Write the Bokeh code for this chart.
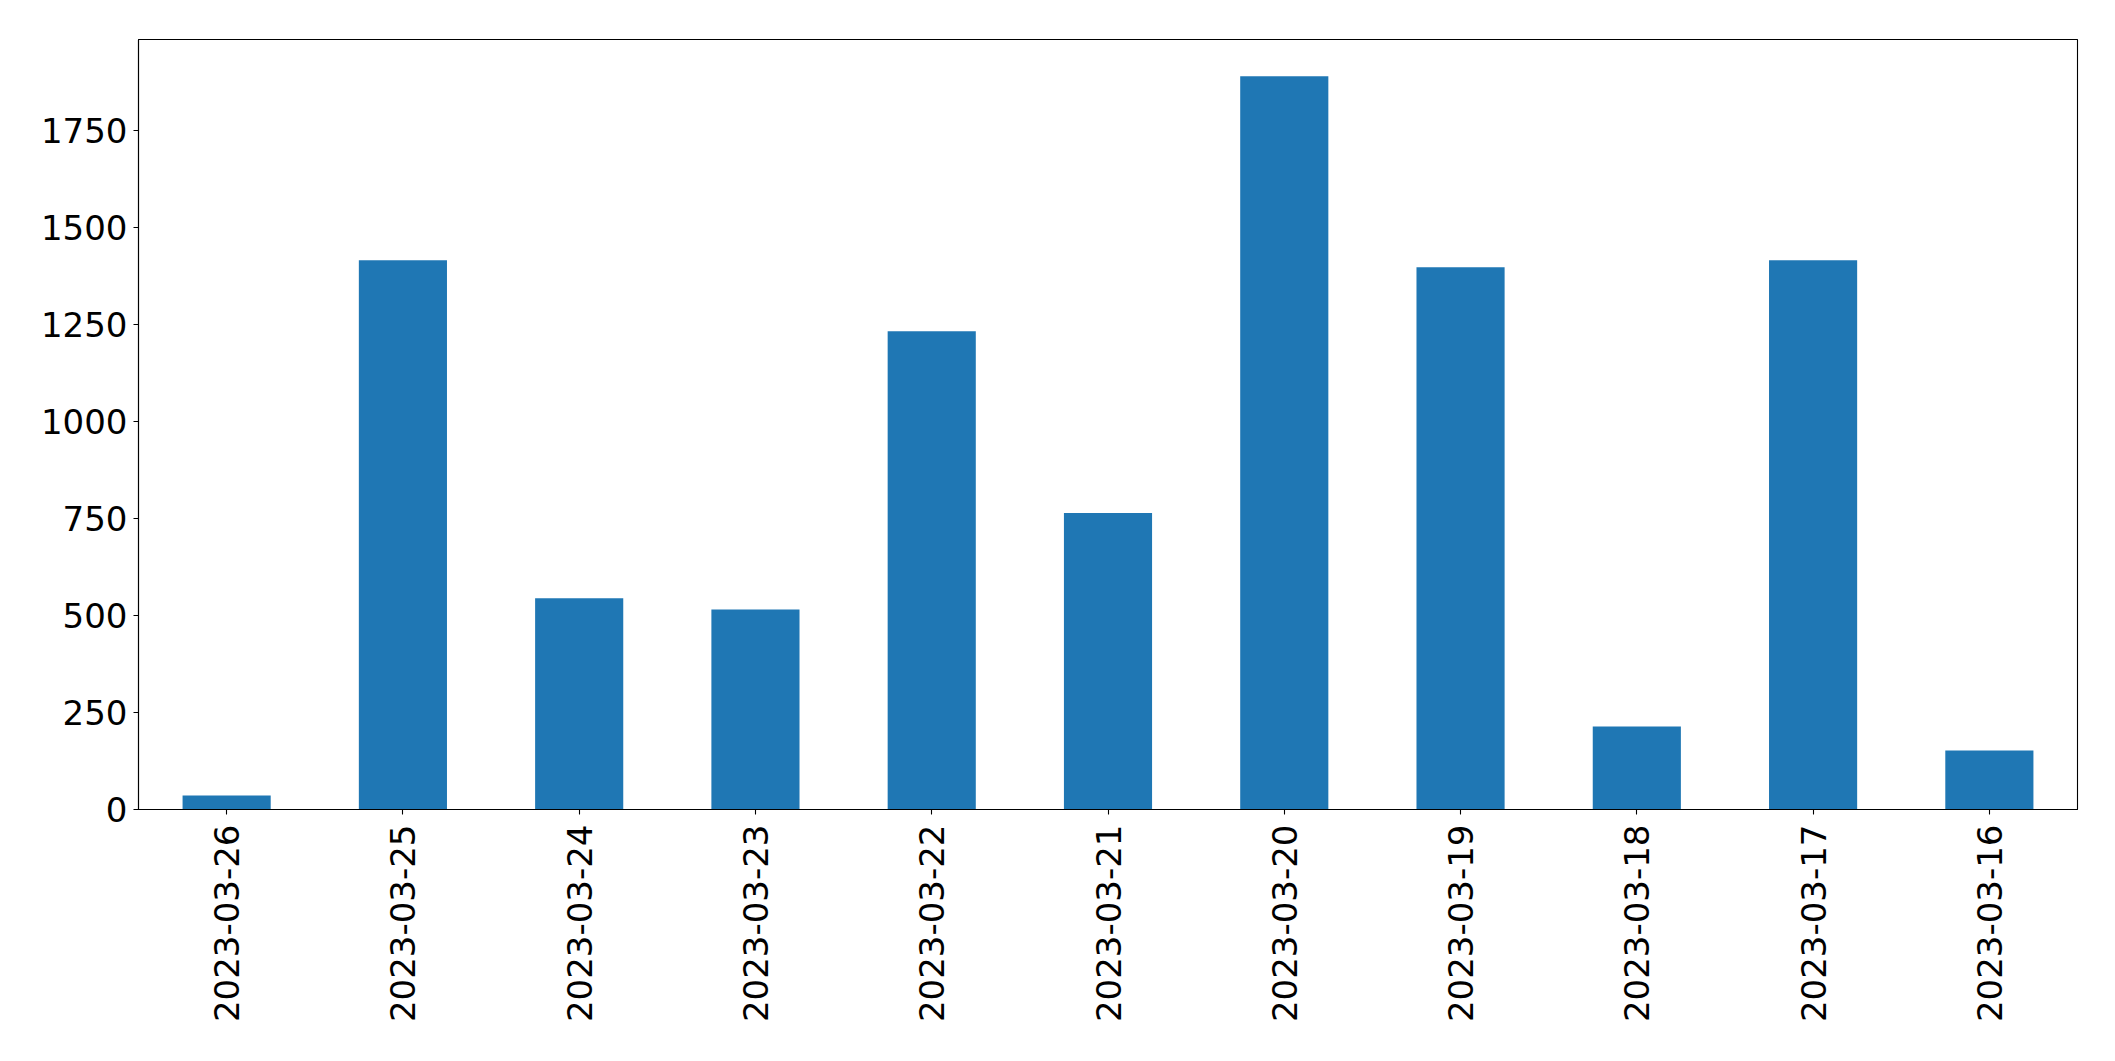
import math
from bokeh.plotting import figure
from bokeh.models import FactorRange, Range1d, FixedTicker, ColumnDataSource
from bokeh.embed import file_html
from bokeh.resources import INLINE

dates = ["2023-03-26", "2023-03-25", "2023-03-24", "2023-03-23", "2023-03-22",
         "2023-03-21", "2023-03-20", "2023-03-19", "2023-03-18", "2023-03-17",
         "2023-03-16"]
counts = [36, 1415, 544, 515, 1232, 764, 1889, 1397, 214, 1415, 152]
y_ticks = [0, 250, 500, 750, 1000, 1250, 1500, 1750]

src = ColumnDataSource(dict(x=dates, top=counts))

W, H = 2107, 1053
p = figure(
    width=W, height=H,
    x_range=FactorRange(*dates, range_padding=0),
    y_range=Range1d(0, max(counts) * 1.05),
    output_backend="svg", toolbar_location=None,
    min_border_left=138, min_border_top=39,
    min_border_right=30, min_border_bottom=244,
)

p.vbar(x="x", top="top", width=0.5, source=src,
       fill_color="#1f77b4", line_color=None)

p.xgrid.visible = False
p.ygrid.visible = False
p.outline_line_color = "black"
p.outline_line_width = 1.1
p.background_fill_color = "white"
p.border_fill_color = "white"

for ax in (p.xaxis[0], p.yaxis[0]):
    ax.axis_line_color = "black"
    ax.axis_line_width = 1.1
    ax.major_tick_line_color = "black"
    ax.major_tick_line_width = 1.1
    ax.major_tick_out = 5
    ax.major_tick_in = 0
    ax.minor_tick_line_color = None
    ax.major_label_text_font = "DejaVu Sans"
    ax.major_label_text_font_size = "34px"
    ax.major_label_text_color = "black"

p.yaxis[0].ticker = FixedTicker(ticks=y_ticks)
p.yaxis[0].major_label_standoff = 6
p.xaxis[0].major_label_orientation = math.pi / 2
p.xaxis[0].major_label_standoff = 10
p.xaxis[0].group_text_font_size = "0px"

open("out.html", "w").write(file_html(p, INLINE))
